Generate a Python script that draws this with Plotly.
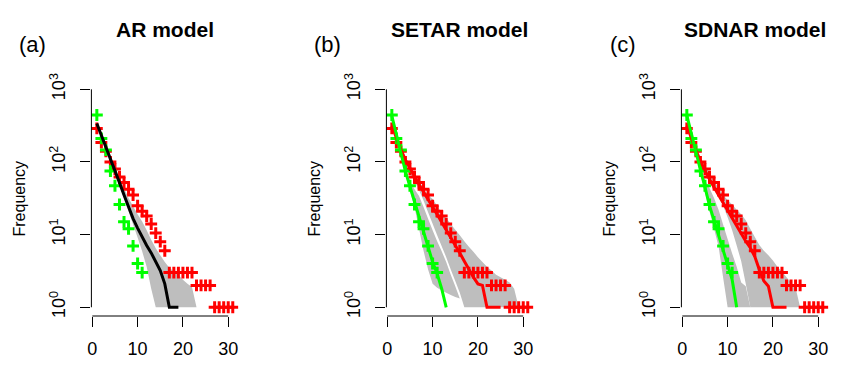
import plotly.graph_objects as go

# ---------------- data ----------------
panel_titles = ["AR model", "SETAR model", "SDNAR model"]
panel_tags = ["(a)", "(b)", "(c)"]
x_ticks = [0, 10, 20, 30]
y_ticks = [1, 10, 100, 1000]
y_tick_text = ["10<sup>0</sup>", "10<sup>1</sup>", "10<sup>2</sup>", "10<sup>3</sup>"]

# observed frequencies (red crosses)
red_x = list(range(1, 32))
red_obs = [290, 185, 140, 100, 80, 62, 52, 42, 35, 25, 21, 18, 14, 10.5, 8, 6,
           3, 3, 3, 3, 3, 3, 2, 2, 2, 2, 1, 1, 1, 1, 1]
# observed frequencies (green crosses)
green_x = list(range(1, 12))
green_obs = [443, 211, 146, 75, 47, 26, 15, 12, 7, 4, 3]

# (a) AR model: single fitted line with band
ar_x = list(range(1, 20))
ar_mean = [339, 234, 162, 115, 78, 52, 35, 24, 16.6, 12.3, 9.1, 7.1, 5.6, 4.2, 3.2, 2.1, 1, 1, 1]
ar_band_x = list(range(1, 24))
ar_lower = [324, 224, 155, 107, 72, 48, 32, 21, 13.8, 9.1, 5.9, 3.6, 1.8,
            1, 1, 1, 1, 1, 1, 1, 1, 1, 1]
ar_upper = [363, 251, 174, 123, 85, 60, 43, 32, 24.5, 19, 15.1, 11.5, 8.5, 6.5,
            5.2, 4.2, 3.5, 3.1, 2.8, 2.4, 2.1, 1.9, 1]

# (b) SETAR model
setar_green_x = list(range(1, 14))
setar_green = [430, 238, 132, 74, 46, 28, 17.8, 11, 6.8, 4.2, 2.9, 1.8, 1]
setar_green_band_x = list(range(1, 17))
setar_green_lower = [398, 219, 120, 66, 40, 24, 12, 6.0, 3.3, 2.1, 1.86, 1.7, 1.58, 1.48, 1.38, 1.32]
setar_green_upper = [457, 257, 145, 83, 54, 42, 34, 24, 16.6, 11.5, 8.1, 5.9, 4.2, 2.8, 1.95, 1.32]
setar_red_x = list(range(1, 26))
setar_red = [316, 209, 148, 107, 81, 63, 49, 39, 31, 24.5, 19, 14.8, 11.7, 9.3, 7.4,
             5.6, 4.3, 3.3, 2.6, 2.1, 2.0, 1, 1, 1, 1]
setar_red_band_x = list(range(1, 30))
setar_red_lower = [295, 195, 135, 95, 71, 54, 41, 29.5, 20.4, 14.1, 9.8, 6.9, 4.9, 3.3, 2.3, 1.58,
                   1, 1, 1, 1, 1, 1, 1, 1, 1, 1, 1, 1, 1]
setar_red_upper = [339, 229, 162, 117, 89, 69, 55, 44, 35, 31, 25, 20, 17, 14, 11.7, 9.8,
                   8.1, 6.8, 5.8, 4.9, 4.2, 3.6, 3.2, 2.8, 2.6, 2.4, 2.2, 1.8, 1]

# (c) SDNAR model
sdnar_green_x = list(range(1, 13))
sdnar_green = [437, 240, 135, 78, 45, 25, 15.8, 9.8, 5.8, 3.8, 2.4, 1]
sdnar_green_band_x = list(range(1, 16))
sdnar_green_lower = [407, 224, 123, 69, 38, 21, 12, 6.9, 2.6, 1, 1, 1, 1, 1, 1]
sdnar_green_upper = [468, 263, 151, 89, 56, 44, 32, 22, 13.8, 8.7, 5.5, 3.6, 2.2, 1.95, 1]
sdnar_red_x = list(range(1, 24))
sdnar_red = [316, 209, 145, 102, 76, 58, 45, 35, 27.5, 21.4, 16.6, 12.9, 10, 8.1, 6.6,
             5.0, 3.3, 2.3, 1.95, 1, 1, 1, 1]
sdnar_red_band_x = list(range(1, 27))
sdnar_red_lower = [295, 191, 132, 91, 68, 52, 42, 33, 25, 17.4, 11.5, 7.1, 4.3, 2.1,
                   1, 1, 1, 1, 1, 1, 1, 1, 1, 1, 1, 1]
sdnar_red_upper = [339, 229, 162, 117, 89, 69, 55, 44, 35, 30, 26, 22, 19, 15.8, 12,
                   9.3, 7.2, 6.0, 5.2, 4.4, 3.6, 3.1, 2.6, 2.2, 1.86, 1]

# ---------------- style / layout ----------------
W, H = 846, 365
FONT = "Arial, Liberation Sans, sans-serif"
GRAY = "#BEBEBE"
RED = "#FF0000"
GREEN = "#00FF00"
PANEL_LEFT = [91.4, 386.4, 681.4]
PANEL_W = 146.8
PANEL_TOP, PANEL_BOTTOM = 80.6, 316.0
XRANGE = [-0.2, 32.2]
YRANGE = [-0.12, 3.12]


def xid(i):
    return "x" if i == 0 else f"x{i+1}"


def yid(i):
    return "y" if i == 0 else f"y{i+1}"


fig = go.Figure()


def band(i, xs, lo, hi):
    px = list(xs) + list(xs)[::-1]
    py = list(lo) + list(hi)[::-1]
    fig.add_trace(go.Scatter(x=px, y=py, mode="none", fill="toself", fillcolor=GRAY,
                             hoverinfo="skip",
                             xaxis=xid(i), yaxis=yid(i), showlegend=False))


def crosses(i, xs, ys, color):
    fig.add_trace(go.Scatter(x=xs, y=ys, mode="markers",
                             marker=dict(symbol="cross-thin-open", size=8.5, color=color,
                                         line=dict(width=3, color=color)),
                             xaxis=xid(i), yaxis=yid(i), showlegend=False))


def line(i, xs, ys, color):
    fig.add_trace(go.Scatter(x=xs, y=ys, mode="lines", line=dict(width=3, color=color),
                             xaxis=xid(i), yaxis=yid(i), showlegend=False))


# panel a
band(0, ar_band_x, ar_lower, ar_upper)
crosses(0, red_x, red_obs, RED)
crosses(0, green_x, green_obs, GREEN)
line(0, ar_x, ar_mean, "#000000")
# panel b
band(1, setar_green_band_x, setar_green_lower, setar_green_upper)
band(1, setar_red_band_x, setar_red_lower, setar_red_upper)
crosses(1, red_x, red_obs, RED)
crosses(1, green_x, green_obs, GREEN)
line(1, setar_red_x, setar_red, RED)
line(1, setar_green_x, setar_green, GREEN)
# panel c
band(2, sdnar_green_band_x, sdnar_green_lower, sdnar_green_upper)
band(2, sdnar_red_band_x, sdnar_red_lower, sdnar_red_upper)
crosses(2, red_x, red_obs, RED)
crosses(2, green_x, green_obs, GREEN)
line(2, sdnar_red_x, sdnar_red, RED)
line(2, sdnar_green_x, sdnar_green, GREEN)

layout = dict(width=W, height=H, margin=dict(l=0, r=0, t=0, b=0, autoexpand=False),
              paper_bgcolor="white", plot_bgcolor="white", showlegend=False,
              font=dict(family=FONT, color="black"))
shapes = []
annotations = []
for i in range(3):
    x0 = PANEL_LEFT[i] / W
    x1 = (PANEL_LEFT[i] + PANEL_W) / W
    y0 = 1 - PANEL_BOTTOM / H
    y1 = 1 - PANEL_TOP / H
    xk = "xaxis" if i == 0 else f"xaxis{i+1}"
    yk = "yaxis" if i == 0 else f"yaxis{i+1}"
    layout[xk] = dict(domain=[x0, x1], range=XRANGE, anchor=yid(i), automargin=False,
                      tickvals=x_ticks, ticktext=[str(t) for t in x_ticks],
                      ticks="outside", ticklen=10, tickwidth=1, tickcolor="black",
                      showline=False, showgrid=False, zeroline=False,
                      tickfont=dict(size=18, family=FONT, color="black"),
                      ticklabelstandoff=6)
    layout[yk] = dict(domain=[y0, y1], type="log", range=YRANGE, anchor=xid(i),
                      automargin=False,
                      tickvals=y_ticks, ticktext=y_tick_text,
                      ticks="outside", ticklen=10, tickwidth=1, tickcolor="black",
                      tickangle=-90,
                      showline=False, showgrid=False, zeroline=False,
                      tickfont=dict(size=18, family=FONT, color="black"),
                      ticklabelstandoff=8)
    shapes.append(dict(type="line", xref=f"{xid(i)} domain", yref=yid(i),
                       x0=0, x1=0, y0=y_ticks[0], y1=y_ticks[-1],
                       line=dict(color="black", width=1)))
    shapes.append(dict(type="line", xref=xid(i), yref=f"{yid(i)} domain",
                       x0=x_ticks[0], x1=x_ticks[-1], y0=0, y1=0,
                       line=dict(color="black", width=1)))
    cx = (PANEL_LEFT[i] + PANEL_W / 2) / W
    annotations.append(dict(text=panel_titles[i], xref="paper", yref="paper",
                            x=cx, y=1 - 29.7 / H, xanchor="center", yanchor="middle",
                            showarrow=False,
                            font=dict(size=21, family=FONT, color="black", weight="bold")))
    annotations.append(dict(text=panel_tags[i], xref="paper", yref="paper",
                            x=(32.5 + 295 * i) / W, y=1 - 44.3 / H,
                            xanchor="center", yanchor="middle", showarrow=False,
                            font=dict(size=22, family=FONT, color="black")))
    annotations.append(dict(text="Frequency", xref="paper", yref="paper",
                            x=(19.2 + 295 * i) / W, y=1 - 198.3 / H, textangle=-90,
                            xanchor="center", yanchor="middle", showarrow=False,
                            font=dict(size=16, family=FONT, color="black")))
layout["shapes"] = shapes
layout["annotations"] = annotations
fig.update_layout(**layout)
fig.write_html("out.html", config={"displayModeBar": False})

# remove the browser's default page margin so the figure starts at the window corner
with open("out.html", "r", encoding="utf-8") as f:
    html = f.read()
html = html.replace("<head>", "<head><style>html,body{margin:0;padding:0;overflow:hidden;}</style>", 1)
with open("out.html", "w", encoding="utf-8") as f:
    f.write(html)
